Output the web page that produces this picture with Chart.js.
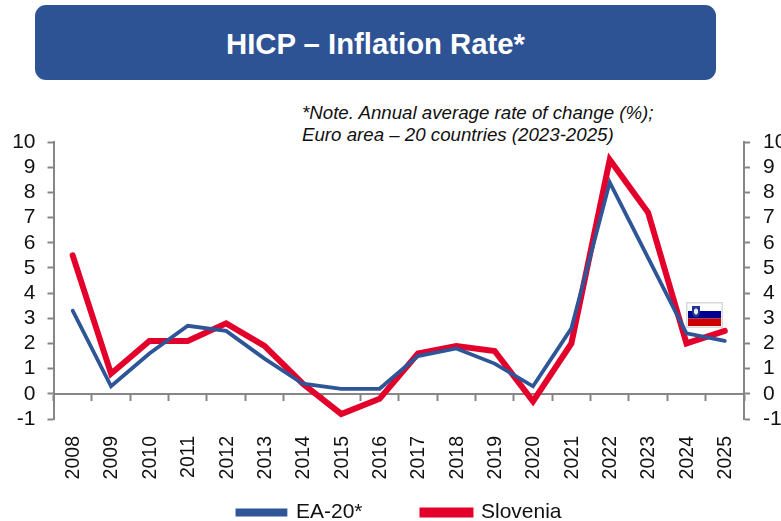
<!DOCTYPE html>
<html><head><meta charset="utf-8">
<style>
html,body{margin:0;padding:0;background:#fff;overflow:hidden}
#wrap{position:relative;width:781px;height:521px;font-family:"Liberation Sans",Arial,sans-serif}
#banner{position:absolute;left:35px;top:5px;width:681px;height:75px;border-radius:11px;background:#2E5395;color:#fff;font-weight:700;font-size:29.3px;line-height:77px;text-align:center}
#note{position:absolute;left:302px;top:102px;font-style:italic;font-size:18.7px;line-height:22px;color:#111;white-space:nowrap}
#flag{position:absolute;left:686px;top:302px;width:37px;height:26px}
canvas{position:absolute;left:0;top:0}
</style>
<script src="https://cdn.jsdelivr.net/npm/chart.js@4"></script>
</head><body>
<div id="wrap">
<div id="banner">HICP – Inflation Rate*</div>
<div id="note">*Note. Annual average rate of change (%);<br>Euro area – 20 countries (2023-2025)</div>
<svg id="flag" viewBox="0 0 37 26">
<rect x="0.5" y="0.5" width="36" height="25" fill="#fff" stroke="#d9d9d9" stroke-width="2"/>
<rect x="2" y="9" width="33" height="7.5" fill="#00008f"/>
<rect x="2" y="16.5" width="33" height="7.5" fill="#cc0000"/>
<path d="M6 4h8v6q0 4-4 5.5q-4-1.500-4-5.500z" fill="#22348f"/>
<path d="M8 8l2-2 2 2v3l-2 2-2-2z" fill="#e8eef5"/>
</svg>
<canvas id="c" width="781" height="521"></canvas>
</div>
<script>
const years=["2008","2009","2010","2011","2012","2013","2014","2015","2016","2017","2018","2019","2020","2021","2022","2023","2024","2025"];
const ea20=[3.3,0.3,1.6,2.7,2.5,1.4,0.4,0.2,0.2,1.5,1.8,1.2,0.3,2.6,8.4,5.4,2.4,2.1];
const slovenia=[5.5,0.8,2.1,2.1,2.8,1.9,0.4,-0.8,-0.2,1.6,1.9,1.7,-0.3,2.0,9.3,7.2,2.0,2.5];
const AXIS="#868686",INK="#111",FONT='"Liberation Sans",Arial,sans-serif';
new Chart(document.getElementById('c'),{
 type:'line',
 data:{labels:years,datasets:[
  {label:'EA-20*',data:ea20,borderColor:'#2E5597',backgroundColor:'#2E5597',borderWidth:3.8,pointRadius:0,tension:0,yAxisID:'y',xAxisID:'x',borderJoinStyle:'miter',borderCapStyle:'round'},
  {label:'Slovenia',data:slovenia,borderColor:'#E3002B',backgroundColor:'#E3002B',borderWidth:6,pointRadius:0,tension:0,yAxisID:'y',xAxisID:'x',borderJoinStyle:'miter',borderCapStyle:'round'}
 ]},
 options:{
  responsive:false,animation:false,
  layout:{padding:{left:0,right:-18,top:142,bottom:-12}},
  plugins:{title:{display:false},tooltip:{enabled:false},
   legend:{display:true,position:'bottom',labels:{boxWidth:48,boxHeight:4,padding:60,color:INK,font:{family:FONT,size:21}}}},
  scales:{
   x:{type:'category',position:{y:0},offset:true,
      grid:{offset:true,drawOnChartArea:false,drawTicks:true,tickLength:6,tickColor:AXIS,tickWidth:2},
      border:{display:true,color:AXIS,width:2},ticks:{display:false}},
   x2:{type:'category',position:'bottom',offset:true,min:years[0],max:years[years.length-1],
      grid:{display:false},border:{display:false},
      ticks:{display:true,mirror:true,labelOffset:24.4,autoSkip:false,minRotation:90,maxRotation:90,padding:-17,color:INK,font:{family:FONT,size:19.5}},
      afterFit(s){s.height=23;}},
   y:{type:'linear',position:'left',min:-1,max:10,
      grid:{drawOnChartArea:false,drawTicks:true,tickLength:6,tickColor:AXIS,tickWidth:2},
      border:{display:true,color:AXIS,width:2},
      ticks:{stepSize:1,autoSkip:false,padding:12,color:INK,font:{family:FONT,size:21}},
      afterFit(s){s.width=53.5;}},
   y2:{type:'linear',position:'right',min:-1,max:10,
      grid:{drawOnChartArea:false,drawTicks:true,tickLength:6,tickColor:AXIS,tickWidth:2},
      border:{display:true,color:AXIS,width:2},
      ticks:{stepSize:1,autoSkip:false,padding:13,color:INK,font:{family:FONT,size:21}},
      afterFit(s){s.width=55;}}
  }
 }
});
</script>
</body></html>
